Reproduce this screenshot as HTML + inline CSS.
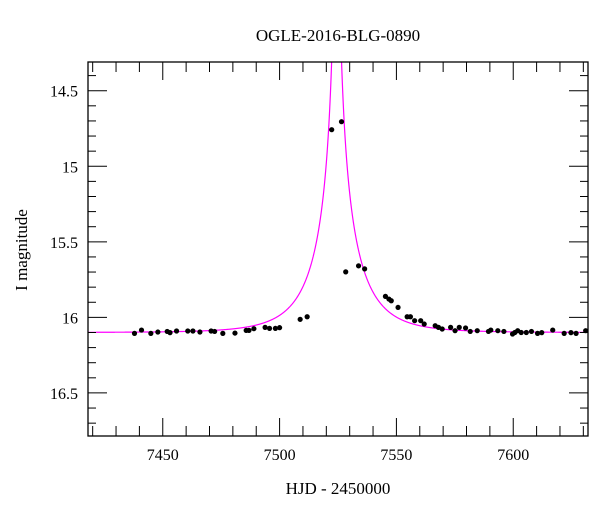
<!DOCTYPE html>
<html><head><meta charset="utf-8"><style>
html,body{margin:0;padding:0;background:#fff;}
svg{display:block;font-family:"Liberation Serif",serif;}
</style></head><body>
<svg id="chart" width="600" height="512" viewBox="0 0 600 512">
<text x="338" y="41" font-size="17" text-anchor="middle">OGLE-2016-BLG-0890</text>
<text x="338" y="494" font-size="17" text-anchor="middle">HJD - 2450000</text>
<text x="27" y="250" font-size="17" text-anchor="middle" transform="rotate(-90 27 250)">I magnitude</text>
<g id="plot"></g>
</svg>
<script>
const days = [7437.9,7440.9,7444.9,7447.9,7451.9,7453.1,7455.9,7460.7,7462.9,7465.9,7470.7,7472.2,7475.7,7480.9,7485.7,7486.9,7489,7493.8,7495.7,7498.2,7500,7508.8,7511.8,7522.3,7526.5,7528.3,7533.8,7536.4,7545.3,7546.8,7547.8,7550.7,7554.6,7556,7557.8,7560.4,7561.9,7566.6,7568,7569.6,7573.2,7575.1,7576.9,7579.6,7581.6,7584.6,7589.4,7590.4,7593.4,7596,7599.7,7600.7,7601.9,7603.4,7605.6,7607.8,7610.4,7612.2,7616.9,7621.8,7624.7,7626.9,7631];
const mags = [16.106,16.084,16.106,16.097,16.093,16.101,16.09,16.09,16.09,16.097,16.09,16.093,16.106,16.104,16.086,16.086,16.075,16.066,16.073,16.073,16.068,16.013,15.996,14.758,14.705,15.699,15.659,15.679,15.861,15.879,15.89,15.934,15.996,15.996,16.022,16.022,16.044,16.055,16.066,16.077,16.066,16.088,16.066,16.07,16.093,16.088,16.093,16.084,16.088,16.093,16.11,16.1,16.088,16.1,16.1,16.093,16.106,16.101,16.084,16.106,16.101,16.106,16.088];
const modelParams = [7524.4, 0.01, 20, 0.5, 16.1]; // t0, u0, tE, fs, baseline
const xTicks = [7450,7500,7550,7600];
const yTicks = [14.5,15,15.5,16,16.5];
const xTickLabels = ["7450","7500","7550","7600"];
const yTickLabels = ["14.5","15","15.5","16","16.5"];

const L=88,R=588,T=62,B=436, X0=7418,X1=7632, Y0=14.31,Y1=16.785;
const sx=d=>L+(d-X0)/(X1-X0)*(R-L);
const sy=m=>T+(m-Y0)/(Y1-Y0)*(B-T);
const NS="http://www.w3.org/2000/svg";
const g=document.getElementById('plot');
function mk(tag,attrs){const e=document.createElementNS(NS,tag);for(const k in attrs)e.setAttribute(k,attrs[k]);g.appendChild(e);return e;}

// clip
const defs=mk('defs',{});
const cp=document.createElementNS(NS,'clipPath');cp.setAttribute('id','clip');
const cr=document.createElementNS(NS,'rect');cr.setAttribute('x',L);cr.setAttribute('y',T);cr.setAttribute('width',R-L);cr.setAttribute('height',B-T);
cp.appendChild(cr);defs.appendChild(cp);

// model curve
const [t0,u0,tE,fs,base]=modelParams;
function modelMag(t){const u=Math.sqrt(u0*u0+Math.pow((t-t0)/tE,2));const A=(u*u+2)/(u*Math.sqrt(u*u+4));return base-2.5*Math.log10(fs*A+1-fs);}
let pts=[];
for(let t=X0;t<=X1;t+=0.05){pts.push(sx(t).toFixed(2)+','+sy(modelMag(t)).toFixed(2));}
const curve=mk('polyline',{points:pts.join(' '),fill:'none',stroke:'#ff00ff','stroke-width':1.2,'clip-path':'url(#clip)'});



// data points
days.forEach((d,i)=>{const c=mk('circle',{cx:sx(d),cy:sy(mags[i]),r:2.6,fill:'#000','clip-path':'url(#clip)'});

});

// frame
const fr=mk('rect',{x:L,y:T,width:R-L,height:B-T,fill:'none',stroke:'#000','stroke-width':1.3});



// x ticks
for(let d=7420;d<=X1;d+=10){const maj=d%50===0;const len=maj?18:10;
 mk('line',{x1:sx(d),x2:sx(d),y1:B,y2:B-len,stroke:'#000','stroke-width':1});
 mk('line',{x1:sx(d),x2:sx(d),y1:T,y2:T+len,stroke:'#000','stroke-width':1});}
xTicks.forEach((d,i)=>{const t=mk('text',{x:sx(d),y:B+24,'font-size':16,'text-anchor':'middle'});t.textContent=xTickLabels[i];

});
// y ticks
for(let k=Math.ceil(Y0*10);k<=Math.floor(Y1*10);k++){const m=k/10;const maj=k%5===0;const len=maj?19:8;
 mk('line',{x1:L,x2:L+len,y1:sy(m),y2:sy(m),stroke:'#000','stroke-width':1});
 mk('line',{x1:R,x2:R-len,y1:sy(m),y2:sy(m),stroke:'#000','stroke-width':1});}
yTicks.forEach((m,i)=>{const t=mk('text',{x:78,y:sy(m)+6,'font-size':16,'text-anchor':'end'});t.textContent=yTickLabels[i];

});
</script>
</body></html>
